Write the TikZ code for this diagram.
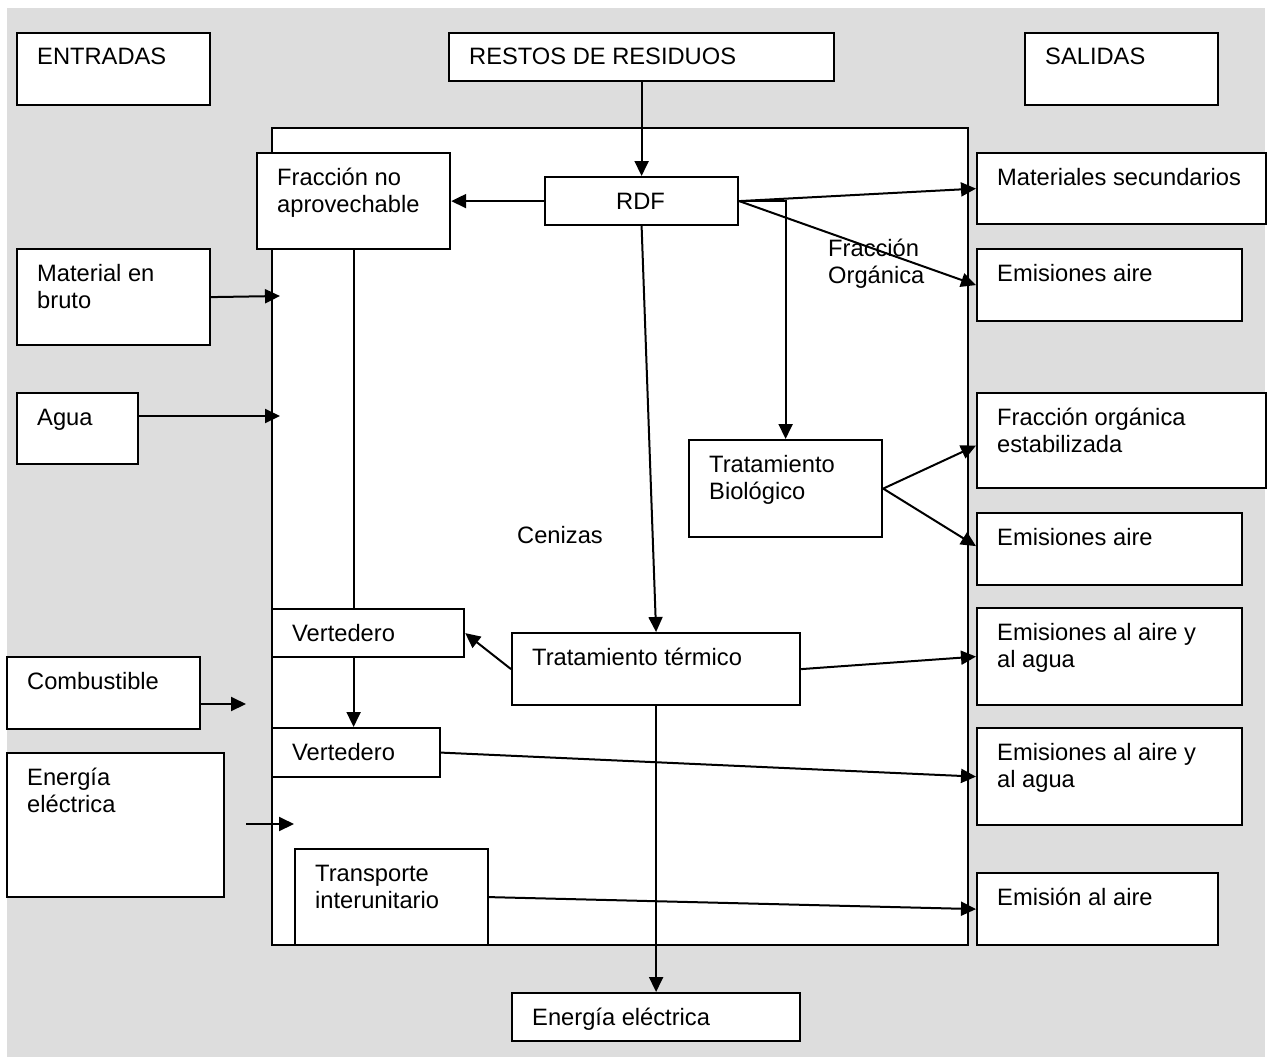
\documentclass[tikz,border=0pt]{standalone}
\usepackage{fontspec}
\setmainfont{Liberation Sans}
\usetikzlibrary{arrows.meta}
\definecolor{bggray}{RGB}{221,221,221}
\newcommand\mylines[1]{\begin{tabular}[t]{@{}l@{}}#1\end{tabular}}
\tikzset{
  box/.style={draw, line width=2.2pt, fill=white, inner sep=0pt, anchor=north west},
  txt/.style={inner sep=0pt, anchor=base west},
  arr/.style={-{Triangle[length=15pt,width=14pt]}, line width=2pt},
  ln/.style={line width=2pt},
}
\newcommand\bx[6]{%
  \node[box, minimum width=#4pt, minimum height=#5pt] (#1) at (#2,#3) {};
  \node[txt] (#1-t) at ({#2+21},{#3+33}) {\mylines{#6}};}
\begin{document}
\begin{tikzpicture}[x=1pt,y=-1pt,font=\fontsize{23.7}{27.5}\selectfont]
\useasboundingbox (0,0) rectangle (1271,1057);
\fill[bggray] (7,8) rectangle (1265,1057);
% system boundary
\node[box, minimum width=696pt, minimum height=817pt] (sys) at (271,127) {};
% top row
\bx{ent}{16}{32}{193}{72}{ENTRADAS}
\bx{res}{448}{32}{385}{48}{RESTOS DE RESIDUOS}
\bx{sal}{1024}{32}{193}{72}{SALIDAS}
% inner process boxes
\bx{frac}{256}{152}{193}{96}{Fracción no\\aprovechable}
\node[box, minimum width=193pt, minimum height=48pt] (rdf) at (544,176) {};
\node[inner sep=0pt, anchor=base] (rdf-t) at (640.5,209) {RDF};
\bx{tb}{688}{439}{193}{97}{Tratamiento\\Biológico}
\bx{v1}{271}{608}{192}{48}{Vertedero}
\bx{tt}{511}{632}{288}{72}{Tratamiento térmico}
\bx{v2}{271}{727}{168}{49}{Vertedero}
\bx{tr}{294}{848}{193}{96}{Transporte\\interunitario}
\bx{ee}{511}{992}{288}{48}{Energía eléctrica}
% inputs
\bx{mb}{16}{248}{193}{96}{Material en\\bruto}
\bx{agua}{16}{392}{121}{71}{Agua}
\bx{comb}{6}{656}{193}{72}{Combustible}
\bx{eel}{6}{752}{217}{144}{Energía\\eléctrica}
% outputs
\bx{mat}{976}{152}{289}{71}{Materiales secundarios}
\bx{ea1}{976}{248}{265}{72}{Emisiones aire}
\bx{foe}{976}{392}{289}{95}{Fracción orgánica\\estabilizada}
\bx{ea2}{976}{512}{265}{72}{Emisiones aire}
\bx{eaa1}{976}{607}{265}{97}{Emisiones al aire y\\al agua}
\bx{eaa2}{976}{727}{265}{97}{Emisiones al aire y\\al agua}
\bx{ema}{976}{872}{241}{72}{Emisión al aire}
% free labels
\node[txt] (fo) at (828,256) {\mylines{Fracción\\Orgánica}};
\node[txt] (cen) at (517,543) {Cenizas};
% connectors
\draw[arr] (res.south) -- (rdf.north);
\draw[arr] (rdf.west) -- (frac.east);
\draw[arr] (rdf.east) -- (mat.west);
\draw[arr] (rdf.east) -- (ea1.west);
\draw[arr] (rdf.east) -| (tb.north);
\draw[arr] (rdf.south) -- (tt.north);
\draw[ln] (frac.south) -- (frac.south |- v1.north);
\draw[arr] (frac.south |- v1.south) -- (frac.south |- v2.north);
\draw[arr] (tt.west) -- (v1.east);
\draw[arr] (tt.east) -- (eaa1.west);
\draw[arr] (tt.south) -- (ee.north);
\draw[arr] (v2.east) -- (eaa2.west);
\draw[arr] (tr.east) -- (ema.west);
\draw[arr] (tb.east) -- ([yshift=-5pt]foe.west);
\draw[arr] (tb.east) -- ([yshift=3pt]ea2.west);
% inputs into the system
\coordinate (mbin) at (280,296);
\coordinate (agin) at (280,416);
\coordinate (cbin) at (246,704);
\coordinate (eestart) at (246,824);
\coordinate (eein) at (294,824);
\draw[arr] (mb.east) -- (mbin);
\draw[arr] (agua.east |- agin) -- (agin);
\draw[arr] (comb.east |- cbin) -- (cbin);
\draw[arr] (eestart) -- (eein);
\end{tikzpicture}
\end{document}
